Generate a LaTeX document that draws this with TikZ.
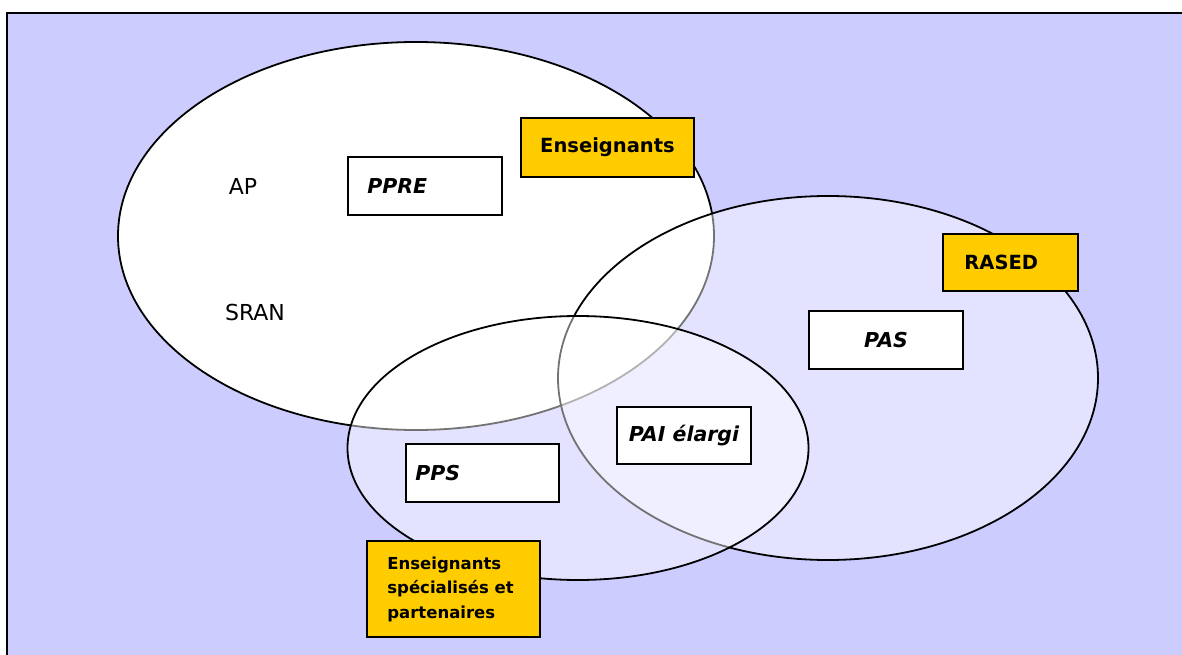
\documentclass[tikz,border=0pt]{standalone}
\usepackage{fontspec}
\setmainfont{DejaVu Sans}
\usetikzlibrary{shapes.geometric}
\definecolor{bgblue}{HTML}{CCCCFF}
\definecolor{gold}{HTML}{FFCC00}
\begin{document}
\begin{tikzpicture}[x=1pt,y=-1pt,
  oval/.style={ellipse, draw=black, line width=1.8pt, inner sep=0pt},
  wbox/.style={draw=black, line width=1.6pt, fill=white, inner sep=0pt},
  gbox/.style={draw=black, line width=1.6pt, fill=gold, inner sep=0pt},
  reg/.style={inner sep=0pt, font=\fontsize{22}{26}\selectfont},
  bld/.style={inner sep=0pt, font=\fontsize{19.5}{23}\selectfont\bfseries},
  bit/.style={inner sep=0pt, font=\fontsize{20.5}{24}\selectfont\bfseries\itshape},
  sml/.style={inner sep=0pt, align=left, font=\fontsize{16.5}{24.5}\selectfont\bfseries}]
\useasboundingbox (0,0) rectangle (1182,655);
\fill[white] (0,0) rectangle (1182,655);
\fill[bgblue] (7,13) rectangle (1182,655);
\draw[line width=2.2pt] (1182,13) -- (7,13) -- (7,655);
% ellipses
\node[oval, fill=white, minimum width=596pt, minimum height=388pt] (big) at (416,236) {};
\node[oval, fill=white, fill opacity=0.45, minimum width=540pt, minimum height=364pt] (right) at (828,378) {};
\node[oval, fill=white, fill opacity=0.45, minimum width=461pt, minimum height=264pt] (small) at (578,448) {};
% plain texts
\node[reg] (ap) at (243,186) {AP};
\node[reg] (sran) at (255,312) {SRAN};
% boxes
\node[wbox, minimum width=154pt, minimum height=58pt] (ppre) at (425,186) {};
\node[bit, anchor=west] (ppret) at ([xshift=20pt]ppre.west) {PPRE};
\node[gbox, minimum width=173pt, minimum height=59pt] (ens) at (607.5,147.5) {};
\node[bld] (enst) at (ens.center) {Enseignants};
\node[gbox, minimum width=135pt, minimum height=57pt] (rased) at (1010.5,262.5) {};
\node[bld, anchor=west] (rasedt) at ([xshift=22pt]rased.west) {RASED};
\node[wbox, minimum width=154pt, minimum height=58pt] (pas) at (886,340) {};
\node[bit] (past) at (pas.center) {PAS};
\node[wbox, minimum width=134pt, minimum height=57pt] (pai) at (684,435.5) {};
\node[bit] (pait) at (pai.center) {PAI élargi};
\node[wbox, minimum width=153pt, minimum height=58pt] (pps) at (482.5,473) {};
\node[bit, anchor=west] (ppst) at ([xshift=10pt]pps.west) {PPS};
\node[gbox, minimum width=173pt, minimum height=96pt] (esp) at (453.5,589) {};
\node[sml, anchor=west] (espt) at ([xshift=21pt]esp.west) {Enseignants\\spécialisés et\\partenaires};
\end{tikzpicture}
\end{document}
